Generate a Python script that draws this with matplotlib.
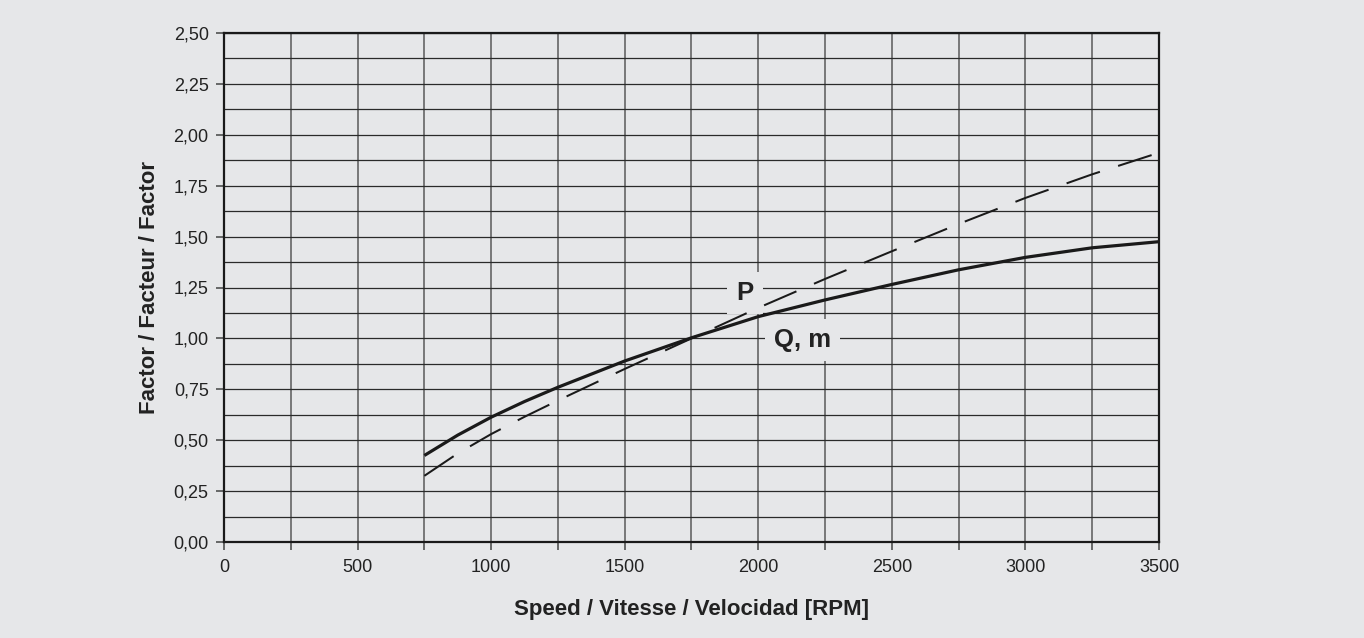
import matplotlib
matplotlib.use("Agg")
import matplotlib.pyplot as plt
from matplotlib.ticker import MultipleLocator, FuncFormatter

# Data
speed = [750, 875, 1000, 1125, 1250, 1500, 1750, 2000, 2250, 2500, 2750, 3000, 3250, 3500]
q_m = [0.425, 0.525, 0.613, 0.69, 0.76, 0.889, 1.003, 1.107, 1.189, 1.265, 1.337, 1.398, 1.445, 1.475]
p = [0.325, 0.435, 0.53, 0.615, 0.695, 0.85, 1.0, 1.15, 1.292, 1.428, 1.562, 1.69, 1.806, 1.912]

x_label = "Speed / Vitesse / Velocidad [RPM]"
y_label = "Factor / Facteur / Factor"

BG = "#e6e7e9"
plt.rcParams['font.family'] = ['Liberation Sans', 'DejaVu Sans']

fig = plt.figure(figsize=(13.64, 6.38), dpi=100, facecolor=BG)
ax = fig.add_axes([224/1364, 1-542/638, (1159-224)/1364, (542-33)/638])
ax.set_facecolor(BG)

ax.set_xlim(0, 3500)
ax.set_ylim(0, 2.5)

ax.xaxis.set_major_locator(MultipleLocator(500))
ax.xaxis.set_minor_locator(MultipleLocator(250))
ax.yaxis.set_major_locator(MultipleLocator(0.25))
ax.yaxis.set_minor_locator(MultipleLocator(0.125))
ax.yaxis.set_major_formatter(FuncFormatter(lambda v, pos: f"{v:.2f}".replace(".", ",")))

# grid
ax.grid(True, which='both', axis='y', color='#2a2a2a', lw=0.9, zorder=1)
ax.grid(True, which='both', axis='x', color='#5a5a5a', lw=1.1, zorder=1)
ax.set_axisbelow(True)

ax.tick_params(axis='x', which='both', direction='out', length=6, width=1.1,
               color='#444444', labelsize=13, labelcolor='#222222', pad=6)
ax.tick_params(axis='y', which='major', direction='out', length=6, width=1.1,
               color='#444444', labelsize=13, labelcolor='#222222', pad=5)
ax.tick_params(axis='y', which='minor', length=0)

for s in ax.spines.values():
    s.set_color('#1a1a1a')
    s.set_linewidth(1.6)
    s.set_zorder(3)

ax.plot(speed, q_m, color='#1a1a1a', lw=2.3, solid_capstyle='butt', zorder=4)
ax.plot(speed, p, color='#1a1a1a', lw=1.45, linestyle=(0, (17.5, 9.5)),
        dash_capstyle='butt', zorder=4)

ax.text(1950, 1.225, "P", fontsize=18.5, fontweight='bold', color='#222222',
        ha='center', va='center', zorder=2,
        bbox=dict(boxstyle='square,pad=0.35', fc=BG, ec='none'))
ax.text(2167, 0.992, "Q, m", fontsize=18.5, fontweight='bold', color='#222222',
        ha='center', va='center', zorder=2,
        bbox=dict(boxstyle='square,pad=0.35', fc=BG, ec='none'))

ax.set_xlabel(x_label, fontsize=16, fontweight='bold', color='#222222', labelpad=17)
ax.set_ylabel(y_label, fontsize=16, fontweight='bold', color='#222222', labelpad=10)

fig.savefig("out.png", dpi=100, facecolor=BG)
